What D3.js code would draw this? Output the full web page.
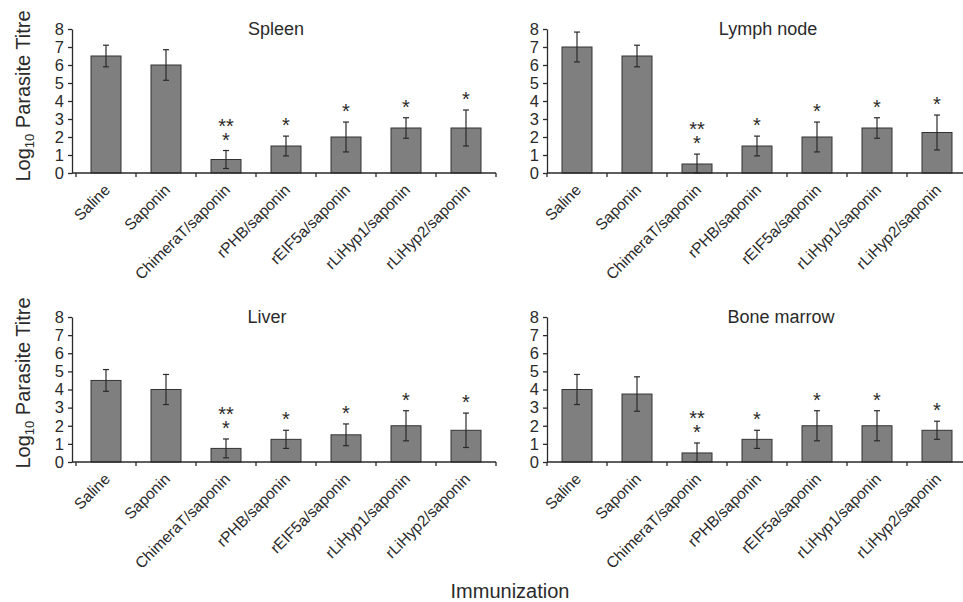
<!DOCTYPE html>
<html>
<head>
    <title>Parasite titre by organ</title>
    <script src="https://d3js.org/d3.v7.min.js"></script>
    <style>
        body { margin: 0; background: #fff; }
        svg { font-family: "Liberation Sans", Arial, sans-serif; }
    </style>
</head>
<body>
    <div class="chart"></div>
    <script>
        // Data
        const categories = ["Saline", "Saponin", "ChimeraT/saponin", "rPHB/saponin",
                            "rEIF5a/saponin", "rLiHyp1/saponin", "rLiHyp2/saponin"];
        const organs = ["Spleen", "Lymph node", "Liver", "Bone marrow"];

        const spleenMean = [6.5, 6.0, 0.75, 1.5, 2.0, 2.5, 2.5];
        const spleenErr  = [0.6, 0.85, 0.5, 0.55, 0.83, 0.57, 1.0];
        const lymphMean  = [7.0, 6.5, 0.5, 1.5, 2.0, 2.5, 2.25];
        const lymphErr   = [0.83, 0.6, 0.55, 0.55, 0.83, 0.57, 0.97];
        const liverMean  = [4.5, 4.0, 0.75, 1.25, 1.5, 2.0, 1.75];
        const liverErr   = [0.6, 0.83, 0.52, 0.5, 0.6, 0.83, 0.95];
        const boneMean   = [4.0, 3.75, 0.5, 1.25, 2.0, 2.0, 1.75];
        const boneErr    = [0.83, 0.95, 0.55, 0.5, 0.83, 0.83, 0.5];

        const significance = [[], [], ["**", "*"], ["*"], ["*"], ["*"], ["*"]];
        const yTicks = [0, 1, 2, 3, 4, 5, 6, 7, 8];

        const means = [spleenMean, lymphMean, liverMean, boneMean];
        const errs = [spleenErr, lymphErr, liverErr, boneErr];

        // Panel layout
        const panels = [
            {axisX: 72,  band: [76, 496],  y: [173, 29],  titleX: 276, titleY: 35},
            {axisX: 547, band: [547, 967], y: [173, 29],  titleX: 768, titleY: 35},
            {axisX: 72,  band: [76, 496],  y: [462, 317], titleX: 267, titleY: 323},
            {axisX: 547, band: [547, 967], y: [462, 317], titleX: 781, titleY: 323}
        ];

        const ink = "#2a2a2a";

        const svg = d3.select(".chart")
            .append("svg")
            .attr("width", 963)
            .attr("height", 602);

        panels.forEach((p, i) => {
            const g = svg.append("g");

            const x = d3.scaleBand()
                .domain(categories)
                .range(p.band)
                .paddingInner(0.5)
                .paddingOuter(0.25);

            const y = d3.scaleLinear()
                .domain([0, 8])
                .range(p.y)
                .clamp(true);

            const data = categories.map((c, k) => ({
                cat: c, mean: means[i][k], err: errs[i][k], sig: significance[k]
            }));

            // Bars
            g.selectAll(".bar")
                .data(data)
                .enter()
                .append("rect")
                .attr("x", d => x(d.cat))
                .attr("y", d => y(d.mean))
                .attr("width", x.bandwidth())
                .attr("height", d => y(0) - y(d.mean))
                .attr("fill", "#7f7f7f")
                .attr("stroke", "#333")
                .attr("stroke-width", 1);

            // Error bars
            const cap = 3;
            const eb = g.selectAll(".err")
                .data(data)
                .enter()
                .append("g")
                .attr("stroke", ink)
                .attr("stroke-width", 1.2);
            eb.append("line")
                .attr("x1", d => x(d.cat) + x.bandwidth() / 2)
                .attr("x2", d => x(d.cat) + x.bandwidth() / 2)
                .attr("y1", d => y(d.mean + d.err))
                .attr("y2", d => y(d.mean - d.err));
            eb.append("line")
                .attr("x1", d => x(d.cat) + x.bandwidth() / 2 - cap)
                .attr("x2", d => x(d.cat) + x.bandwidth() / 2 + cap)
                .attr("y1", d => y(d.mean + d.err))
                .attr("y2", d => y(d.mean + d.err));
            eb.append("line")
                .attr("x1", d => x(d.cat) + x.bandwidth() / 2 - cap)
                .attr("x2", d => x(d.cat) + x.bandwidth() / 2 + cap)
                .attr("y1", d => y(d.mean - d.err))
                .attr("y2", d => y(d.mean - d.err));

            // Significance stars (one text per bar, stacked rows)
            data.filter(d => d.sig.length).forEach(d => {
                const cx = x(d.cat) + x.bandwidth() / 2;
                const rows = d.sig.length;
                const t = g.append("text")
                    .attr("x", cx)
                    .attr("y", y(d.mean + d.err) - 4 - (rows - 1) * 14)
                    .attr("text-anchor", "middle")
                    .attr("font-size", 20)
                    .attr("fill", ink);
                d.sig.forEach((s, r) => {
                    t.append("tspan")
                        .attr("x", cx)
                        .attr("dy", r === 0 ? 0 : 14)
                        .text(s);
                });
            });

            // Y axis
            const yAxis = g.append("g")
                .attr("transform", `translate(${p.axisX},0)`)
                .call(d3.axisLeft(y).tickValues(yTicks).tickSize(4).tickSizeOuter(0).tickPadding(4));
            yAxis.selectAll("text").attr("font-size", 16.5).attr("fill", ink)
                .attr("font-family", "Liberation Sans, Arial, sans-serif");
            yAxis.selectAll("line, path").attr("stroke", ink).attr("stroke-width", 1.3);

            // X axis
            const xAxis = g.append("g")
                .attr("transform", `translate(0,${y(0)})`)
                .call(d3.axisBottom(x).tickSize(0).tickPadding(0).tickSizeOuter(0));
            xAxis.select(".domain").attr("d", `M${p.axisX},0H${p.band[1]}`)
                .attr("stroke", ink).attr("stroke-width", 1.3);
            xAxis.selectAll(".tick text")
                .attr("font-size", 15.5)
                .attr("fill", ink)
                .attr("font-family", "Liberation Sans, Arial, sans-serif")
                .attr("text-anchor", "end")
                .attr("dy", 0)
                .attr("y", 0)
                .attr("transform", "translate(5,18) rotate(-45)");

            // Tick marks between categories
            const bounds = d3.range(categories.length + 1).map(k => p.band[0] + k * x.step());
            xAxis.selectAll(".bound")
                .data(bounds)
                .enter()
                .append("line")
                .attr("x1", d => d).attr("x2", d => d)
                .attr("y1", 0).attr("y2", 4)
                .attr("stroke", ink).attr("stroke-width", 1.3);

            // Panel title
            g.append("text")
                .attr("x", p.titleX)
                .attr("y", p.titleY)
                .attr("text-anchor", "middle")
                .attr("font-size", 18)
                .attr("fill", ink)
                .text(organs[i]);
        });

        // Y axis titles (left column)
        [96, 383].forEach(cy => {
            const t = svg.append("text")
                .attr("transform", `translate(30,${cy}) rotate(-90)`)
                .attr("text-anchor", "middle")
                .attr("font-size", 20)
                .attr("fill", ink);
            t.append("tspan").text("Log");
            t.append("tspan").attr("font-size", 13).attr("dy", 4).text("10");
            t.append("tspan").attr("dy", -4).text(" Parasite Titre");
        });

        // Shared x axis title
        svg.append("text")
            .attr("x", 510)
            .attr("y", 598)
            .attr("text-anchor", "middle")
            .attr("font-size", 20)
            .attr("fill", ink)
            .text("Immunization");
    </script>
</body>
</html>
